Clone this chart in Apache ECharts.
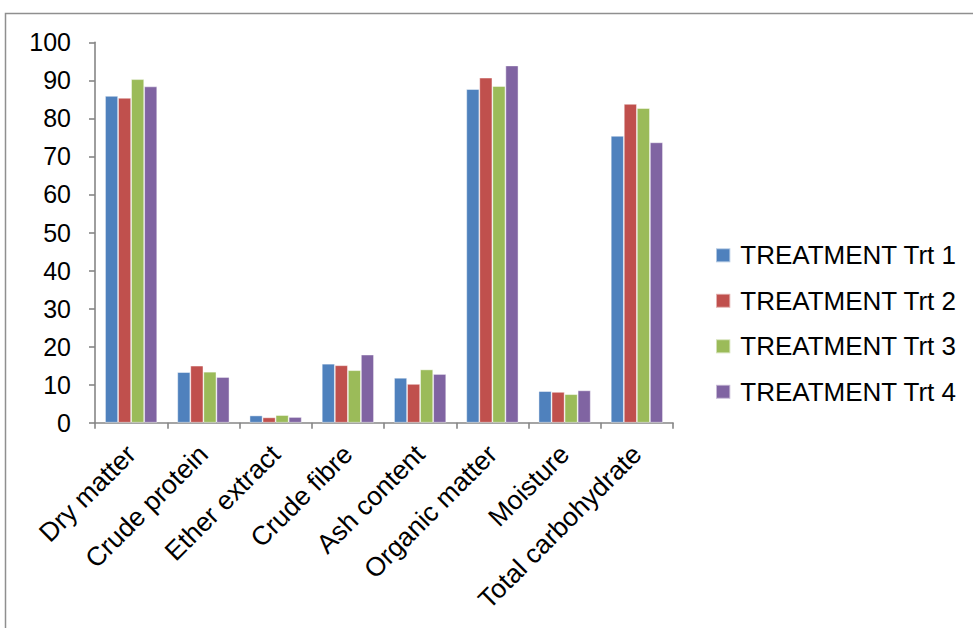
<!DOCTYPE html>
<html>
<head>
<meta charset="utf-8">
<title>Proximate composition by treatment</title>
<script src="https://cdn.jsdelivr.net/npm/echarts@6/dist/echarts.min.js"></script>
<style>
  html, body { margin: 0; padding: 0; background: #fff; overflow: hidden; }
  #chart { width: 973px; height: 628px; }
</style>
</head>
<body>
<div id="chart"></div>
<script>
// Proximate components (%) for the four dietary treatments
const categories = ['Dry matter', 'Crude protein', 'Ether extract', 'Crude fibre',
                    'Ash content', 'Organic matter', 'Moisture', 'Total carbohydrate'];
const seriesNames = ['TREATMENT Trt 1', 'TREATMENT Trt 2', 'TREATMENT Trt 3', 'TREATMENT Trt 4'];
const trt1 = [85.9, 13.3, 1.9, 15.5, 11.8, 87.7, 8.3, 75.4];
const trt2 = [85.4, 15.0, 1.4, 15.1, 10.2, 90.7, 8.1, 83.8];
const trt3 = [90.3, 13.4, 2.0, 13.8, 14.0, 88.5, 7.5, 82.7];
const trt4 = [88.4, 12.0, 1.5, 17.9, 12.8, 93.9, 8.5, 73.7];
const yTicks = { min: 0, max: 100, interval: 10 };

const palette = ['#4F81BD', '#C0504D', '#9BBB59', '#8064A2'];
const font = "'Liberation Sans', Arial, sans-serif";
const axisGrey = '#868686';

const chart = echarts.init(document.getElementById('chart'), null, { renderer: 'svg' });

const seriesData = [trt1, trt2, trt3, trt4];

chart.setOption({
  animation: false,
  color: palette,
  graphic: [{
    type: 'rect',
    silent: true,
    shape: { x: 5.5, y: 13.5, width: 1100, height: 800 },
    style: { fill: 'none', stroke: '#8f8f8f', lineWidth: 1.5 }
  }],
  grid: { left: 95, right: 300, top: 42.3, bottom: 205.3, containLabel: false },
  legend: {
    orient: 'vertical',
    left: 710,
    top: 237.3,
    itemWidth: 14.3,
    itemHeight: 14,
    itemGap: 19.5,
    icon: 'rect',
    data: seriesNames,
    textStyle: {
      fontFamily: font, fontSize: 26, color: '#000', lineHeight: 26,
      padding: [0, 0, 0, 5]
    }
  },
  xAxis: {
    type: 'category',
    data: categories,
    axisLine: { lineStyle: { color: axisGrey, width: 1.6 } },
    axisTick: { show: true, length: 6, lineStyle: { color: axisGrey, width: 1.6 } },
    axisLabel: {
      rotate: 45,
      margin: 27,
      interval: 0,
      fontFamily: font,
      fontSize: 26.5,
      color: '#000'
    },
    splitLine: { show: false }
  },
  yAxis: {
    type: 'value',
    min: yTicks.min,
    max: yTicks.max,
    interval: yTicks.interval,
    axisLine: { show: true, lineStyle: { color: axisGrey, width: 1.6 } },
    axisTick: { show: true, length: 6, lineStyle: { color: axisGrey, width: 1.6 } },
    axisLabel: { margin: 24, fontFamily: font, fontSize: 25, color: '#000' },
    splitLine: { show: false }
  },
  series: seriesData.map((vals, i) => ({
    name: seriesNames[i],
    type: 'bar',
    data: vals,
    barGap: '0%',
    barCategoryGap: '27.8%',
    itemStyle: { color: palette[i], borderColor: 'rgba(255,255,255,0.55)', borderWidth: 0.8 }
  }))
});
</script>
</body>
</html>
